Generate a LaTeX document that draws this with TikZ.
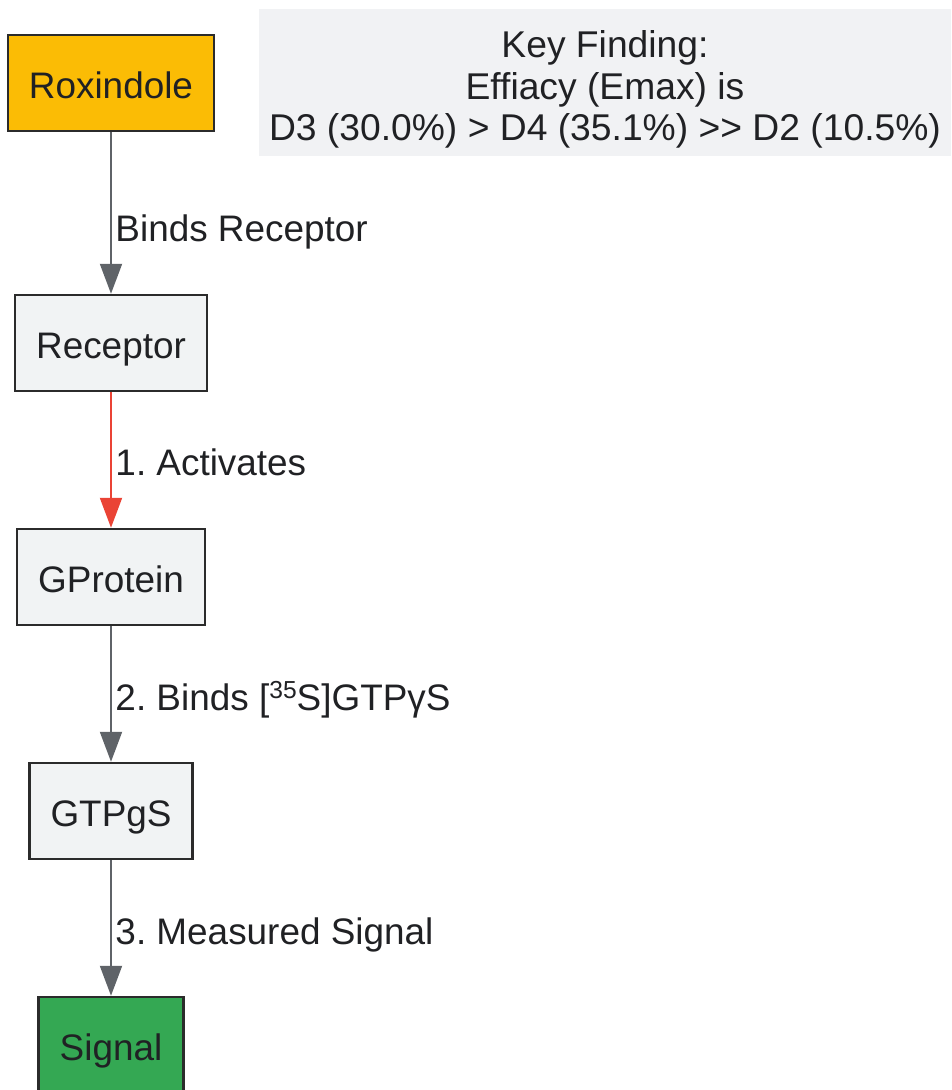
\documentclass[tikz,border=0pt]{standalone}
\usepackage{fontspec}
\setmainfont{Liberation Sans}
\usepackage{xcolor}
\usetikzlibrary{arrows.meta}
\definecolor{roxfill}{HTML}{FBBC05}
\definecolor{sigfill}{HTML}{34A853}
\definecolor{plainfill}{HTML}{F1F3F4}
\definecolor{keyfill}{HTML}{F1F2F4}
\definecolor{boxline}{HTML}{2B2B2B}
\definecolor{textcol}{HTML}{202124}
\definecolor{flowcol}{HTML}{5F6368}
\definecolor{actcol}{HTML}{EA4335}
\tikzstyle{box}=[draw=boxline,line width=1.4pt,minimum height=1.92cm,inner xsep=0.42cm,text height=0.75cm,text depth=0.13cm,text=textcol,font=\fontsize{21}{25}\selectfont]
\tikzstyle{flow}=[-{Triangle[width=0.44cm,length=0.6cm]},line width=1.1pt,flowcol]
\tikzstyle{tag}=[right,inner sep=2pt,text=textcol,font=\fontsize{21}{25}\selectfont]
\def\sup#1{\raisebox{0.32em}{\fontsize{14}{14}\selectfont #1}}
\frenchspacing

\begin{document}
\begin{tikzpicture}
        \def\xc{2.22}
        \useasboundingbox (0,0) rectangle (19.02,-21.8);

        \node[box,fill=roxfill] (rox) at (\xc,-1.66) {Roxindole};
        \node[box,fill=plainfill] (rec) at (\xc,-6.86) {Receptor};
        \node[box,fill=plainfill] (gp) at (\xc,-11.54) {GProtein};
        \node[box,fill=plainfill] (gtp) at (\xc,-16.22) {GTPgS};
        \node[box,fill=sigfill] (sig) at (\xc,-20.9) {Signal};

        \node[fill=keyfill,minimum width=13.84cm,minimum height=2.94cm] (key) at (12.1,-1.65) {};
        \node[align=center,text=textcol,font=\fontsize{21.2}{23.6}\selectfont] (keytext)
            at ([yshift=-0.14cm]key.center)
            {Key Finding:\\Effiacy (Emax) is\\D3 (30.0\%) {>} D4 (35.1\%) {>}{>} D2 (10.5\%)};

        \draw[flow] (rox) -- (rec) node[tag,pos=0.62] {Binds Receptor};
        \draw[flow,actcol] (rec) -- (gp) node[tag,pos=0.52] {1. Activates};
        \draw[flow] (gp) -- (gtp) node[tag,pos=0.54] {2. Binds [\sup{35}S]GTPγS};
        \draw[flow] (gtp) -- (sig) node[tag,pos=0.55] {3. Measured Signal};
    \end{tikzpicture}
\end{document}
